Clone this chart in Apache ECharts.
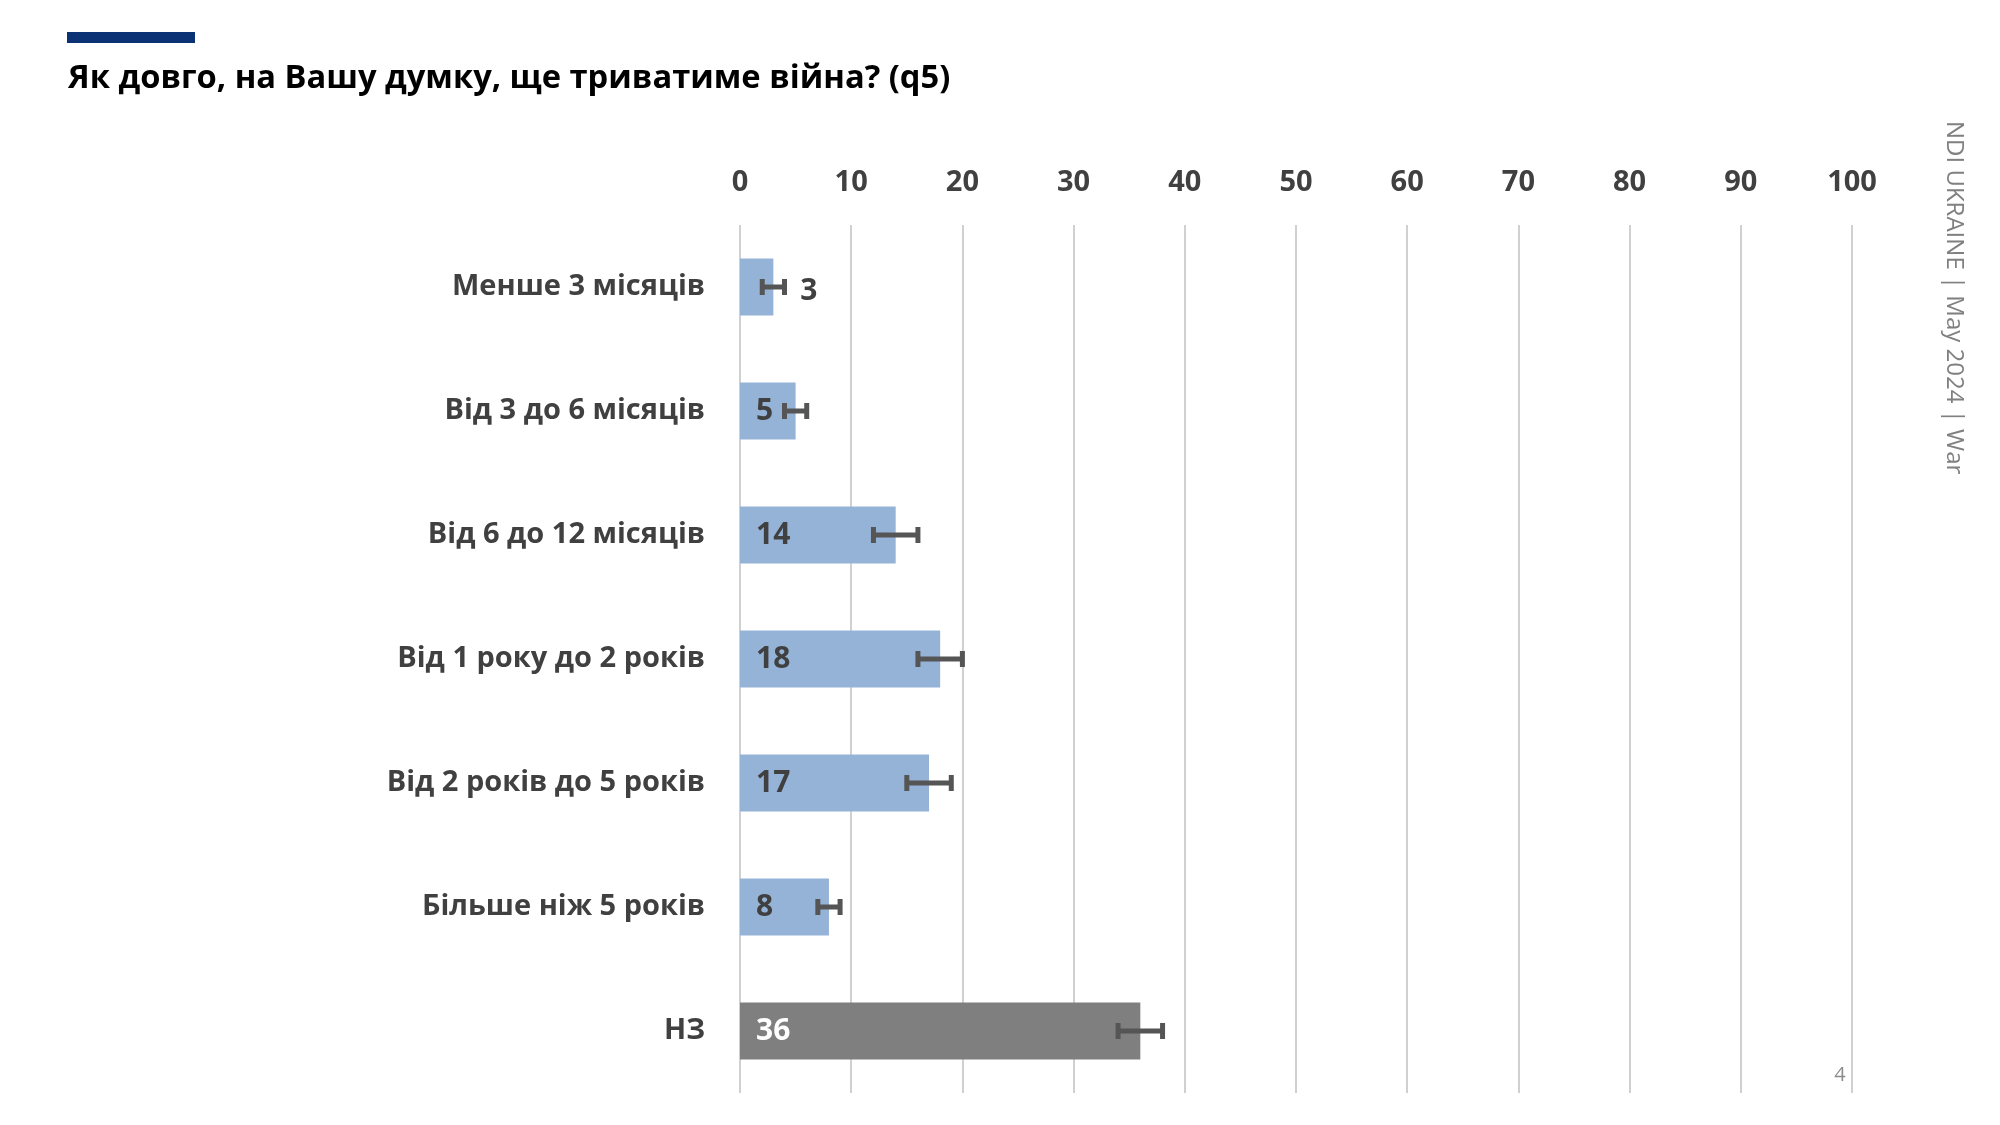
<!DOCTYPE html>
<html>
<head>
<meta charset="utf-8">
<script src="https://cdn.jsdelivr.net/npm/echarts@6/dist/echarts.min.js"></script>
<style>
html,body{margin:0;padding:0;background:#fff;}
#chart{width:2000px;height:1125px;}
</style>
</head>
<body>
<div id="chart"></div>
<script>
const titleText = 'Як довго, на Вашу думку, ще триватиме війна? (q5)';
const categories = ['Менше 3 місяців', 'Від 3 до 6 місяців', 'Від 6 до 12 місяців', 'Від 1 року до 2 років', 'Від 2 років до 5 років', 'Більше ніж 5 років', 'НЗ'];
const values = [3, 5, 14, 18, 17, 8, 36];
const errors = [1, 1, 2, 2, 2, 1, 2];
const tickValues = [0, 10, 20, 30, 40, 50, 60, 70, 80, 90, 100];
const sourceNote = 'NDI UKRAINE | May 2024 | War';
const pageNumber = '4';

const chart = echarts.init(document.getElementById('chart'), null, {renderer: 'canvas'});
const FONT = '"Open Sans", "Noto Sans", sans-serif';
const barColors = values.map((v, i) => i === values.length - 1 ? '#7f7f7f' : '#95b3d7');

const barData = values.map((v, i) => {
  const item = {value: v, itemStyle: {color: barColors[i]}};
  if (i === 0) {
    item.label = {position: 'right', distance: 27, offset: [0, 4]};
  }
  if (i === values.length - 1) {
    item.label = {color: '#ffffff'};
  }
  return item;
});

const errData = values.map((v, i) => [i, v - errors[i], v + errors[i]]);

chart.setOption({
  animation: false,
  backgroundColor: '#ffffff',
  title: {
    text: titleText,
    left: 68,
    top: 62,
    padding: 0,
    textStyle: {fontFamily: FONT, fontWeight: 'bold', fontSize: 32.7, color: '#000000'}
  },
  graphic: [
    {type: 'rect', shape: {x: 67, y: 32, width: 128, height: 11}, style: {fill: '#0b3275'}},
    {type: 'text', x: 1954, y: 121, rotation: -Math.PI / 2,
      style: {text: sourceNote, font: '24px ' + FONT, fill: '#808080', textAlign: 'left', textVerticalAlign: 'middle'}},
    {type: 'text', x: 1840, y: 1075, style: {text: pageNumber, font: '20px ' + FONT, fill: '#8c8c8c', textAlign: 'center', textVerticalAlign: 'middle'}}
  ],
  grid: {left: 740, right: 148, top: 225, bottom: 32, containLabel: false},
  xAxis: {
    type: 'value', position: 'top', min: 0, max: 100, interval: 10,
    axisLine: {show: false}, axisTick: {show: false},
    splitLine: {show: true, lineStyle: {color: '#d0d0d0', width: 2}},
    axisLabel: {
      margin: 28, fontFamily: FONT, fontWeight: 'bold', fontSize: 29, color: '#404040',
      formatter: v => tickValues.includes(v) ? String(v) : ''
    }
  },
  yAxis: {
    type: 'category', data: categories, inverse: true,
    axisLine: {show: false}, axisTick: {show: false},
    axisLabel: {margin: 35, fontFamily: FONT, fontWeight: 'bold', fontSize: 29, color: '#404040'}
  },
  series: [
    {
      type: 'bar', data: barData, barWidth: 57,
      label: {show: true, position: 'insideLeft', distance: 16, fontFamily: FONT, fontWeight: 'bold', fontSize: 30, color: '#404040'},
      z: 2
    },
    {
      type: 'custom', data: errData, z: 3,
      encode: {x: [1, 2], y: 0},
      renderItem: function (params, api) {
        const yi = api.value(0);
        const lo = api.coord([api.value(1), yi]);
        const hi = api.coord([api.value(2), yi]);
        const capH = 8;
        const st = {stroke: '#555555', lineWidth: 5};
        return {
          type: 'group',
          children: [
            {type: 'line', shape: {x1: lo[0], y1: lo[1], x2: hi[0], y2: hi[1]}, style: st},
            {type: 'line', shape: {x1: lo[0], y1: lo[1] - capH, x2: lo[0], y2: lo[1] + capH}, style: st},
            {type: 'line', shape: {x1: hi[0], y1: hi[1] - capH, x2: hi[0], y2: hi[1] + capH}, style: st}
          ]
        };
      }
    }
  ]
});
</script>
</body>
</html>
